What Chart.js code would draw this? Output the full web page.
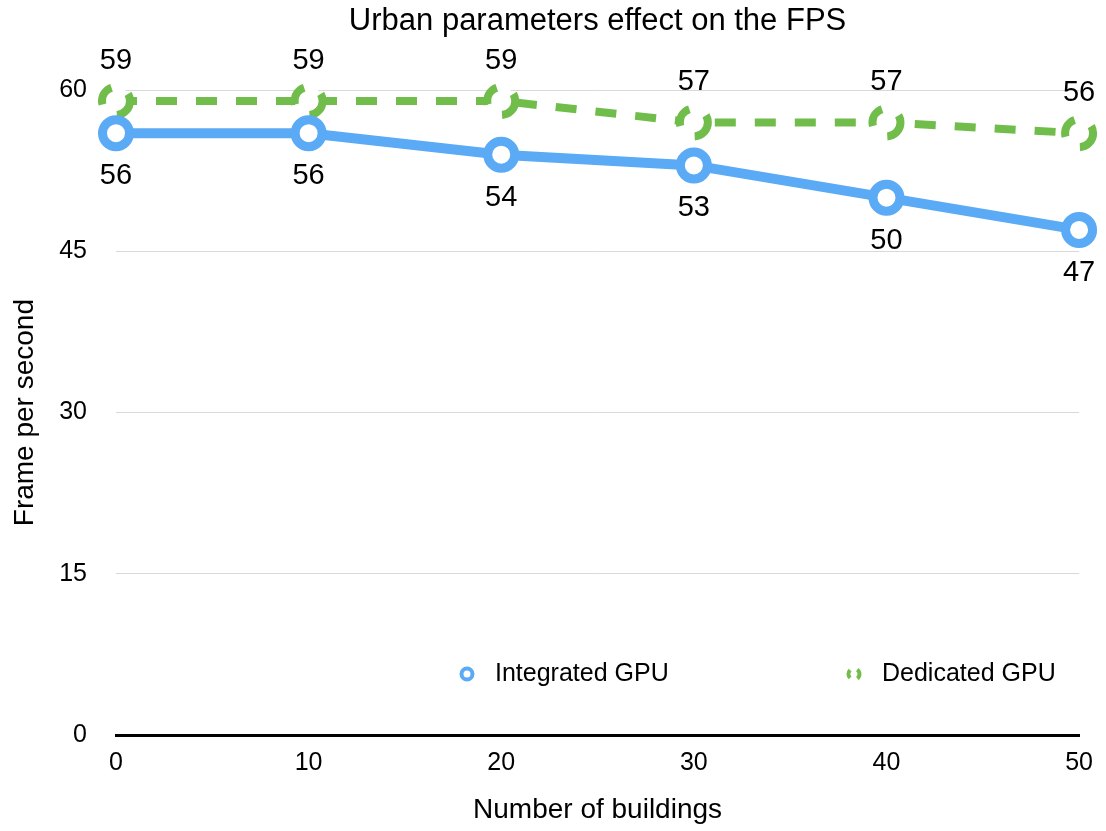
<!DOCTYPE html>
<html>
<head>
<meta charset="utf-8">
<script src="https://cdn.jsdelivr.net/npm/chart.js@4/dist/chart.umd.min.js"></script>
<style>
html,body{margin:0;padding:0;background:#fff;}
#wrap{width:1106px;height:831px;}
</style>
</head>
<body>
<div id="wrap"><canvas id="c" width="1106" height="831"></canvas></div>
<script>
const buildings = [0, 10, 20, 30, 40, 50];
const integratedGPU = [56, 56, 54, 53, 50, 47];
const dedicatedGPU = [59, 59, 59, 57, 57, 56];
const yTicks = [0, 15, 30, 45, 60];
const seriesNames = ['Integrated GPU', 'Dedicated GPU'];

const FONT = '"Liberation Sans", Arial, Helvetica, sans-serif';
const BLUE = '#5aaaf5';
const GREEN = '#71bd4b';
const DASH = [21, 19];

const toPts = (arr) => buildings.map((b, i) => ({x: b, y: arr[i]}));

const titleCenterPlugin = {
  id: 'titleCenter',
  afterLayout(chart) {
    const tb = chart.titleBlock;
    if (tb) { tb.left = chart.chartArea.left; tb.right = chart.chartArea.right; }
  }
};

const dashPointPlugin = {
  id: 'dashPoints',
  beforeDatasetDraw(chart, args) {
    if (args.index === 1) { chart.ctx.save(); chart.ctx.setLineDash(DASH); }
  },
  afterDatasetDraw(chart, args) {
    if (args.index === 1) { chart.ctx.restore(); }
  }
};

const labelPlugin = {
  id: 'valueLabels',
  afterDatasetsDraw(chart) {
    const ctx = chart.ctx;
    ctx.save();
    ctx.font = '29px ' + FONT;
    ctx.fillStyle = '#000';
    ctx.textAlign = 'center';
    ctx.textBaseline = 'middle';
    chart.data.datasets.forEach((ds, di) => {
      const meta = chart.getDatasetMeta(di);
      meta.data.forEach((el, i) => {
        const v = ds.data[i].y;
        const off = di === 0 ? 43 : -40;
        ctx.fillText(String(v), el.x, el.y + off);
      });
    });
    ctx.restore();
  }
};

const legendPlugin = {
  id: 'customLegend',
  afterDraw(chart) {
    const ctx = chart.ctx;
    const y = 674;
    ctx.save();
    ctx.setLineDash([]);
    // Integrated
    ctx.beginPath();
    ctx.lineWidth = 4;
    ctx.strokeStyle = BLUE;
    ctx.fillStyle = '#fff';
    ctx.arc(467, y, 5.5, 0, Math.PI * 2);
    ctx.fill(); ctx.stroke();
    // Dedicated (dashed ring: left and right arcs)
    ctx.strokeStyle = GREEN;
    ctx.lineWidth = 4;
    ctx.beginPath();
    ctx.arc(854, y, 5.5, -Math.PI * 0.3, Math.PI * 0.3);
    ctx.stroke();
    ctx.beginPath();
    ctx.arc(854, y, 5.5, Math.PI * 0.75, Math.PI * 1.25);
    ctx.stroke();
    ctx.font = '25px ' + FONT;
    ctx.fillStyle = '#000';
    ctx.textAlign = 'left';
    ctx.textBaseline = 'middle';
    ctx.fillText(seriesNames[0], 495, y);
    ctx.fillText(seriesNames[1], 882, y);
    ctx.restore();
  }
};

new Chart(document.getElementById('c'), {
  type: 'line',
  data: {
    datasets: [
      {
        label: seriesNames[0],
        data: toPts(integratedGPU),
        borderColor: BLUE,
        backgroundColor: '#fff',
        borderWidth: 10,
        pointRadius: 13.5,
        pointBorderWidth: 9,
        pointBorderColor: BLUE,
        pointBackgroundColor: '#fff',
        tension: 0,
        clip: false
      },
      {
        label: seriesNames[1],
        data: toPts(dedicatedGPU),
        borderColor: GREEN,
        backgroundColor: '#fff',
        borderWidth: 8,
        borderDash: DASH,
        pointRadius: 14,
        pointBorderWidth: 8,
        pointBorderColor: GREEN,
        pointBackgroundColor: '#fff',
        tension: 0,
        clip: false
      }
    ]
  },
  options: {
    responsive: false,
    animation: false,
    devicePixelRatio: 1,
    layout: {padding: {left: 0, right: 26, top: 0, bottom: 0}},
    plugins: {
      legend: {display: false},
      tooltip: {enabled: false},
      title: {
        display: true,
        text: 'Urban parameters effect on the FPS',
        color: '#000',
        font: {family: FONT, size: 31, weight: 'normal'},
        padding: {top: 3, bottom: 50}
      }
    },
    scales: {
      x: {
        type: 'linear',
        min: 0, max: 50,
        afterBuildTicks(scale) { scale.ticks = buildings.map(v => ({value: v})); },
        afterFit(scale) { scale.height = 96; },
        grid: {display: false, drawTicks: false},
        border: {display: true, color: '#000', width: 3},
        ticks: {color: '#000', font: {family: FONT, size: 25}, padding: 13},
        title: {display: true, text: 'Number of buildings', color: '#000',
          font: {family: FONT, size: 28}, padding: {top: 0, bottom: 4}}
      },
      y: {
        type: 'linear',
        min: 0, max: 60,
        afterBuildTicks(scale) { scale.ticks = yTicks.map(v => ({value: v})); },
        afterFit(scale) { scale.width = 116; },
        grid: {color: '#d9d9d9', lineWidth: 1, drawTicks: false},
        border: {display: false},
        ticks: {color: '#000', font: {family: FONT, size: 25}, padding: 29},
        title: {display: true, text: 'Frame per second', color: '#000',
          font: {family: FONT, size: 28}, padding: {top: 8, bottom: 0}}
      }
    }
  },
  plugins: [titleCenterPlugin, dashPointPlugin, labelPlugin, legendPlugin]
});
</script>
</body>
</html>
